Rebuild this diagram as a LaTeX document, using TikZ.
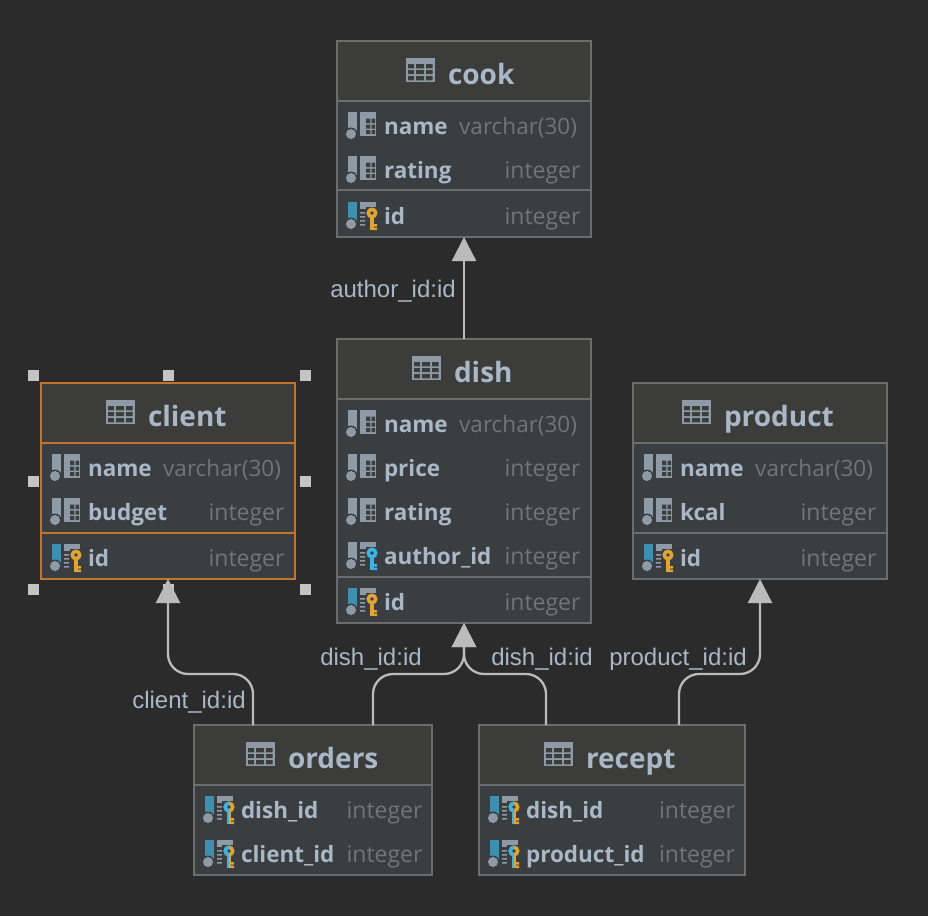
\documentclass[tikz,border=0pt]{standalone}
\usepackage{fontspec}
\setmainfont{Open Sans}
\newfontfamily\labelfont{Liberation Sans}
\usetikzlibrary{arrows.meta}
\definecolor{bg}{HTML}{2B2B2B}
\definecolor{hdr}{HTML}{3C3C3B}
\definecolor{bodyc}{HTML}{3B3E41}
\definecolor{edge}{HTML}{6C6C6C}
\definecolor{sel}{HTML}{C4752C}
\definecolor{txt}{HTML}{A9B7C6}
\definecolor{typec}{HTML}{727578}
\definecolor{ico}{HTML}{8E9BA6}
\definecolor{blue1}{HTML}{3E8FB0}
\definecolor{gold}{HTML}{E0A435}
\definecolor{cyan1}{HTML}{3DB3E3}
\definecolor{conn}{HTML}{BBBBBB}
\definecolor{handle}{HTML}{C4C4C4}
\tikzset{
  x=1pt,y=-1pt,
  box/.style={rectangle,inner sep=0pt,outer sep=0pt,fill=bodyc},
  titletext/.style={inner sep=0pt,outer sep=0pt,anchor=base west,text=txt,font=\fontsize{28}{28}\selectfont\bfseries},
  coltext/.style={inner sep=0pt,outer sep=0pt,anchor=base west,text=txt,font=\fontsize{22.5}{24}\selectfont\bfseries},
  typetext/.style={inner sep=0pt,outer sep=0pt,anchor=base east,text=typec,font=\fontsize{22.5}{24}\selectfont},
  reltext/.style={inner sep=0pt,outer sep=0pt,anchor=base,text=txt,font=\labelfont\fontsize{24}{26}\selectfont},
  connector/.style={draw=conn,line width=2.3pt,rounded corners=20pt,-{Triangle[length=24pt,width=24pt,fill=conn]}},
  handlebox/.style={rectangle,fill=handle,inner sep=0pt,outer sep=0pt,minimum size=11pt},
}
\newcount\rowno
\newcommand{\intg}{{\fontsize{23}{24}\selectfont integer}}
% #1 id, #2 x0, #3 y0, #4 x1, #5 y1, #6 header line y, #7 separator y, #8 title, #9 border colour
\newcommand{\entity}[9]{%
  \node[box,minimum width={#4-#2},minimum height={#5-#3}] (#1) at ({(#2+#4)/2},{(#3+#5)/2}) {};
  \fill[hdr] (#2,#3) rectangle (#4,#6);
  \draw[#9,line width=2pt] (#2,#6) -- (#4,#6);
  \ifx&#7&\else\draw[#9,line width=2pt] (#2,#7) -- (#4,#7);\fi
  \draw[#9,line width=2pt] (#2,#3) rectangle (#4,#5);
}
% #1 id, #2 icon x, #3 center y, #4 text x, #5 text
\newcommand{\titlerow}[5]{%
  \begin{scope}[shift={(#2,#3)}]
    \fill[ico] (0,-14) rectangle (29,10);
    \fill[hdr] (2,-8) rectangle (8,-3.7) (10,-8) rectangle (18,-3.7) (20,-8) rectangle (26.7,-3.7)
               (2,-2) rectangle (8,2) (10,-2) rectangle (18,2) (20,-2) rectangle (26.7,2)
               (2,4) rectangle (8,8.3) (10,4) rectangle (18,8.3) (20,4) rectangle (26.7,8.3);
  \end{scope}
  \node[titletext] (#1-title) at (#4,{#3+12}) {#5};
}
\newcommand{\barcirc}[1]{%
  \fill[#1] (0,-14) rectangle (9,6);
  \fill[bodyc] (3,8) circle (6.5);
  \fill[ico] (3,8) circle (5);
}
\newcommand{\plainicon}{%
  \barcirc{ico}
  \fill[ico] (12,-14) rectangle (28,9.5);
  \fill[bodyc] (18,-7.5) rectangle (22.3,-3) (23.7,-7.5) rectangle (27,-3)
               (18,-1.5) rectangle (22.3,2.7) (23.7,-1.5) rectangle (27,2.7)
               (18,4) rectangle (22.3,8.2) (23.7,4) rectangle (27,8.2);
}
\newcommand{\keylines}{%
  \fill[ico] (12,-14) rectangle (28,-7.5);
  \fill[ico] (12,-4) rectangle (17,-2.5) (12,0) rectangle (17,1.5) (12,4) rectangle (17,5.5) (12,8) rectangle (17,9.5);
}
% #1 colour of the key
\newcommand{\onekey}[1]{%
  \fill[bodyc] (18,-9) rectangle (31,13);
  \fill[#1] (24,-3) circle (5.6);
  \fill[bodyc] (24,-3) circle (1.9);
  \fill[#1] (22,1) rectangle (26,14);
  \fill[#1] (26,8) rectangle (29,10.5) (26,11.7) rectangle (29,14);
}
\newcommand{\pkicon}{\barcirc{blue1}\keylines\onekey{gold}}
\newcommand{\fkicon}{\barcirc{ico}\keylines\onekey{cyan1}}
\newcommand{\pfkicon}{%
  \barcirc{blue1}\keylines
  \fill[bodyc] (17,-9) rectangle (31,14);
  \fill[gold] (24,-3) circle (5.6);
  \begin{scope}
    \clip (16,-10) rectangle (24,3);
    \fill[cyan1] (24,-3) circle (5.6);
  \end{scope}
  \fill[bodyc] (24,-3) circle (1.9);
  \fill[cyan1] (22,1) rectangle (24,14);
  \fill[gold] (24,1) rectangle (26,14);
  \fill[gold] (26,8) rectangle (29,10.5) (26,11.7) rectangle (29,14);
}
% #1 box left, #2 row centre y, #3 icon, #4 name, #5 type right x, #6 type
\newcommand{\colrow}[6]{%
  \global\advance\rowno by 1
  \begin{scope}[shift={({#1+11},#2)}]#3\end{scope}
  \node[coltext] (row\the\rowno n) at ({#1+47},{#2+8}) {#4};
  \node[typetext] (row\the\rowno t) at (#5,{#2+8}) {#6};
}
\begin{document}
\begin{tikzpicture}
\useasboundingbox (0,0) rectangle (928,916);
\fill[bg] (0,0) rectangle (928,916);

\entity{cook}{337}{41}{591}{237}{101}{190}{cook}{edge}
\titlerow{cook}{406}{72}{448}{cook}
\colrow{337}{126}{\plainicon}{name}{577}{varchar(30)}
\colrow{337}{170}{\plainicon}{rating}{580.5}{\intg}
\colrow{337}{216}{\pkicon}{id}{580.5}{\intg}

\entity{dish}{337}{339}{591}{623}{399}{577}{dish}{edge}
\titlerow{dish}{412}{370}{454}{dish}
\colrow{337}{424}{\plainicon}{name}{577}{varchar(30)}
\colrow{337}{468}{\plainicon}{price}{580.5}{\intg}
\colrow{337}{512}{\plainicon}{rating}{580.5}{\intg}
\colrow{337}{556}{\fkicon}{author\_id}{580.5}{\intg}
\colrow{337}{602}{\pkicon}{id}{580.5}{\intg}

\entity{client}{41}{383}{295}{579}{443}{533}{client}{sel}
\titlerow{client}{106}{414}{148}{client}
\colrow{41}{468}{\plainicon}{name}{281}{varchar(30)}
\colrow{41}{512}{\plainicon}{budget}{284.5}{\intg}
\colrow{41}{558}{\pkicon}{id}{284.5}{\intg}

\entity{product}{633}{383}{887}{579}{443}{533}{product}{edge}
\titlerow{product}{682}{414}{724}{product}
\colrow{633}{468}{\plainicon}{name}{873}{varchar(30)}
\colrow{633}{512}{\plainicon}{kcal}{876.5}{\intg}
\colrow{633}{558}{\pkicon}{id}{876.5}{\intg}

\entity{orders}{194}{725}{432}{875}{785}{}{orders}{edge}
\titlerow{orders}{246}{756}{288}{orders}
\colrow{194}{810}{\pfkicon}{dish\_id}{422.5}{\intg}
\colrow{194}{854}{\pfkicon}{client\_id}{422.5}{\intg}

\entity{recept}{479}{725}{745}{875}{785}{}{recept}{edge}
\titlerow{recept}{544}{756}{586}{recept}
\colrow{479}{810}{\pfkicon}{dish\_id}{735}{\intg}
\colrow{479}{854}{\pfkicon}{product\_id}{735}{\intg}

\node[handlebox] (h1) at (33,375) {};
\node[handlebox] (h2) at (168,375) {};
\node[handlebox] (h3) at (305,375) {};
\node[handlebox] (h4) at (33,481) {};
\node[handlebox] (h5) at (305,481) {};
\node[handlebox] (h6) at (33,589) {};
\node[handlebox] (h7) at (168,589) {};
\node[handlebox] (h8) at (305,589) {};

\draw[connector] (dish.north) -- (cook.south);
\draw[connector] ([xshift=-60pt]orders.north) -- ++(0,-51) -| (client.south);
\draw[connector] ([xshift=60pt]orders.north) -- ++(0,-51) -| (dish.south);
\draw[connector] ([xshift=-66pt]recept.north) -- ++(0,-51) -| (dish.south);
\draw[connector] ([xshift=67pt]recept.north) -- ++(0,-51) -| (product.south);

\node[reltext] (l1) at (393,297) {author\_id:id};
\node[reltext] (l2) at (189,708) {client\_id:id};
\node[reltext] (l3) at (371,665) {dish\_id:id};
\node[reltext] (l4) at (542,665) {dish\_id:id};
\node[reltext] (l5) at (678,665) {product\_id:id};
\end{tikzpicture}
\end{document}
